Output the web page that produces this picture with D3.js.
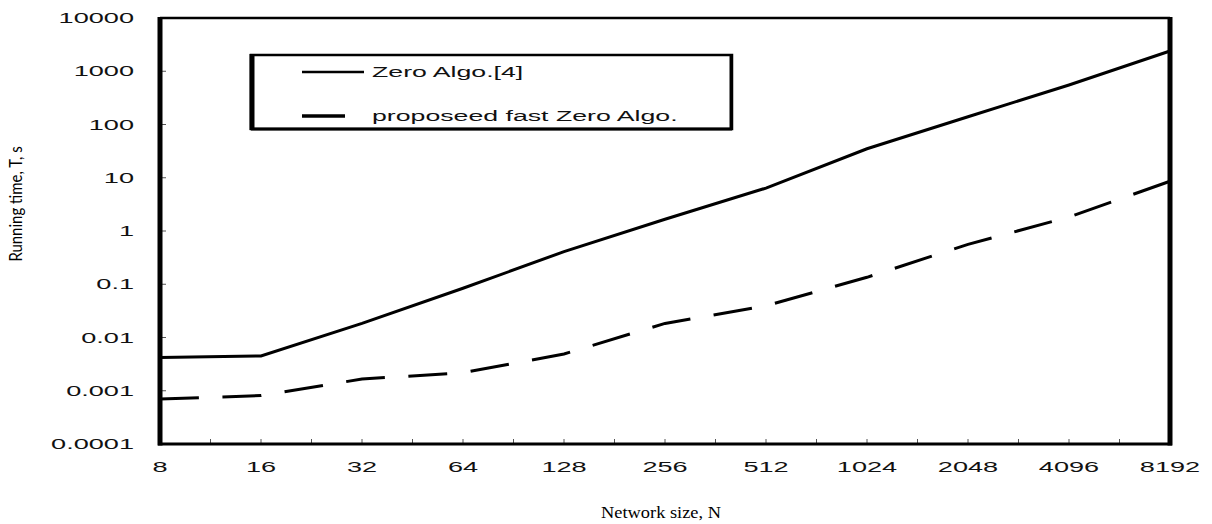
<!DOCTYPE html>
<html><head><meta charset="utf-8">
<script src="https://d3js.org/d3.v7.min.js"></script>
<style>body{margin:0;background:#fff}svg{display:block}</style>
</head><body>
<script>
const sizes = ["8","16","32","64","128","256","512","1024","2048","4096","8192"];
const zeroAlgo = [0.0042, 0.0045, 0.0184, 0.084, 0.41, 1.66, 6.4, 35, 140, 552, 2400];
const fastAlgo = [0.0007, 0.00081, 0.00166, 0.00218, 0.0049, 0.0184, 0.0395, 0.135, 0.56, 1.83, 8.6];
const yTicks = [10000, 1000, 100, 10, 1, 0.1, 0.01, 0.001, 0.0001];
const yTickLabels = ["10000","1000","100","10","1","0.1","0.01","0.001","0.0001"];
const seriesNames = ["Zero Algo.[4]", "proposeed fast Zero Algo."];

const W = 1212, H = 524;
const L = 160, R = 1170, T = 18, B = 444;
const svg = d3.select("body").append("svg").attr("width", W).attr("height", H);

const x = d3.scalePoint().domain(sizes).range([L, R]);
const y = d3.scaleLog().domain([1e-4, 1e4]).range([B, T]);
const SX = 1.87;
const font = "'Liberation Sans', Arial, sans-serif";

// minor x ticks (major + midpoints)
const xt = [];
sizes.forEach((s, i) => { xt.push(x(s)); if (i < sizes.length - 1) xt.push((x(s) + x(sizes[i+1])) / 2); });
svg.append("g").selectAll("line").data(xt).join("line")
  .attr("x1", d => d).attr("x2", d => d).attr("y1", B).attr("y2", B - 5)
  .attr("stroke", "#555").attr("stroke-width", 1);
svg.append("g").selectAll("line").data(yTicks).join("line")
  .attr("x1", L).attr("x2", L + 6).attr("y1", d => y(d)).attr("y2", d => y(d))
  .attr("stroke", "#555").attr("stroke-width", 1);

// y tick labels
svg.append("g").selectAll("text").data(yTicks).join("text")
  .attr("transform", d => `translate(134,${y(d)}) scale(${SX},1)`)
  .attr("text-anchor", "end").attr("dy", "0.36em")
  .attr("font-family", font).attr("font-size", 14.5).attr("fill", "#111")
  .text((d, i) => yTickLabels[i]);

// x tick labels
svg.append("g").selectAll("text").data(sizes).join("text")
  .attr("transform", d => `translate(${x(d)},472) scale(${SX},1)`)
  .attr("text-anchor", "middle")
  .attr("font-family", font).attr("font-size", 14.5).attr("fill", "#111")
  .text(d => d);

// lines
const line = d3.line().x((d, i) => x(sizes[i])).y(d => y(d));
svg.append("path").datum(zeroAlgo).attr("d", line)
  .attr("fill", "none").attr("stroke", "#000").attr("stroke-width", 3);
const dp = svg.append("path").datum(fastAlgo).attr("d", line)
  .attr("fill", "none").attr("stroke", "#000").attr("stroke-width", 3);
{
  const len = dp.node().getTotalLength();
  const n = Math.round((len - 38) / 61);
  const k = len / (n * 61 + 38);
  dp.attr("stroke-dasharray", `${38 * k},${23 * k}`);
}

// frame
const fr = svg.append("g").attr("stroke", "#000");
fr.append("line").attr("x1", L).attr("x2", R).attr("y1", T).attr("y2", T).attr("stroke-width", 2.5);
fr.append("line").attr("x1", L - 2).attr("x2", R + 2).attr("y1", B).attr("y2", B).attr("stroke-width", 3);
fr.append("line").attr("x1", L).attr("x2", L).attr("y1", T - 1).attr("y2", B + 1.5).attr("stroke-width", 5);
fr.append("line").attr("x1", R).attr("x2", R).attr("y1", T - 1).attr("y2", B + 1.5).attr("stroke-width", 5);

// legend
const lg = svg.append("g");
lg.append("rect").attr("x", 251).attr("y", 55).attr("width", 481).attr("height", 74)
  .attr("fill", "#fff").attr("stroke", "#000").attr("stroke-width", 2.5);
lg.append("line").attr("x1", 252).attr("x2", 252).attr("y1", 54).attr("y2", 130).attr("stroke", "#000").attr("stroke-width", 5);
lg.append("line").attr("x1", 251).attr("x2", 732).attr("y1", 129).attr("y2", 129).attr("stroke", "#000").attr("stroke-width", 3);
lg.append("line").attr("x1", 731).attr("x2", 731).attr("y1", 54).attr("y2", 130).attr("stroke", "#000").attr("stroke-width", 3);
lg.append("line").attr("x1", 302).attr("x2", 364).attr("y1", 72).attr("y2", 72).attr("stroke", "#000").attr("stroke-width", 2.5);
lg.append("line").attr("x1", 302).attr("x2", 345).attr("y1", 116).attr("y2", 116).attr("stroke", "#000").attr("stroke-width", 3.5);
lg.selectAll("text.lt").data(seriesNames).join("text")
  .attr("transform", (d, i) => `translate(372,${i === 0 ? 72 : 116}) scale(1.78,1)`)
  .attr("dy", "0.36em").attr("font-family", font).attr("font-size", 15).attr("fill", "#111")
  .text(d => d);

// axis titles
svg.append("text").attr("transform", "translate(22,204) rotate(-90) scale(0.88,1)")
  .attr("text-anchor", "middle").attr("font-family", "Lato, 'Open Sans', sans-serif")
  .attr("font-size", 17).attr("fill", "#000").text("Running time, T, s");
svg.append("text").attr("transform", "translate(661,518) scale(1.08,1)")
  .attr("text-anchor", "middle").attr("font-family", "'Liberation Serif', 'Times New Roman', serif")
  .attr("font-size", 17).attr("fill", "#000").text("Network size, N");
</script>
</body></html>
